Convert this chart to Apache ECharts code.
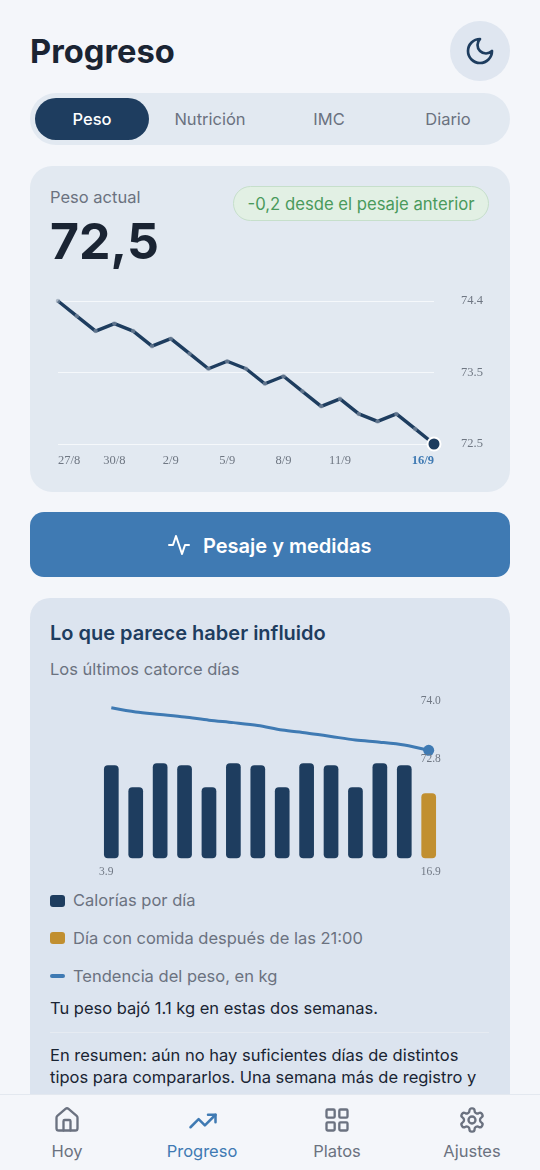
<!DOCTYPE html>
<html lang="es">
<head>
<meta charset="utf-8">
<title>Progreso</title>
<script src="https://cdn.jsdelivr.net/npm/echarts@6/dist/echarts.min.js"></script>
<style>
html,body{margin:0;padding:0;background:#f4f6fa;}
body{position:relative;width:540px;height:1170px;overflow:hidden;font-family:Inter,"Noto Sans",sans-serif;}
.box{position:absolute;box-sizing:border-box;}
.t{position:absolute;white-space:nowrap;line-height:1.2;transform:translateY(calc(-50% + 1px));color:#6b7280;font-size:16.5px;}
.c{transform:translate(-50%,calc(-50% + 1px));}
svg{position:absolute;fill:none;stroke-linecap:round;stroke-linejoin:round;}
</style>
</head>
<body>
<div class="t" style="left:30px;top:51px;font-size:32.7px;font-weight:700;color:#1a2433;">Progreso</div>
<div class="box" style="left:450px;top:21px;width:60px;height:60px;border-radius:50%;background:#dfe6f0;"></div>
<svg style="left:464px;top:35px" width="32" height="32" viewBox="0 0 24 24" stroke="#1e3d5f" stroke-width="2"><path d="M12 3a6 6 0 0 0 9 9 9 9 0 1 1-9-9Z"/></svg>

<div class="box" style="left:30px;top:93px;width:480px;height:52px;border-radius:26px;background:#e2e9f1;"></div>
<div class="box" style="left:35px;top:98px;width:114px;height:42px;border-radius:21px;background:#1e3d5f;"></div>
<div class="t c" style="left:92px;top:119px;color:#fff;font-weight:500;">Peso</div>
<div class="t c" style="left:210px;top:119px;">Nutrición</div>
<div class="t c" style="left:329px;top:119px;">IMC</div>
<div class="t c" style="left:448px;top:119px;">Diario</div>

<div class="box" style="left:30px;top:166px;width:480px;height:326px;border-radius:22px;background:#e2e9f1;"></div>
<div class="t" style="left:50px;top:197px;">Peso actual</div>
<div class="t" style="left:50px;top:240px;font-size:50px;font-weight:700;color:#1a2433;">72,5</div>
<div class="box" style="left:233px;top:186px;width:256px;height:35px;border-radius:18px;background:#e2f0e4;border:1.5px solid #c6dfcb;"></div>
<div class="t c" style="left:361px;top:203px;color:#4a9a5c;font-size:16.7px;">-0,2 desde el pesaje anterior</div>
<div id="weightChart" class="box" style="left:30px;top:285px;width:480px;height:190px;"></div>

<div class="box" style="left:30px;top:512px;width:480px;height:65px;border-radius:14px;background:#3f7ab3;"></div>
<svg style="left:167px;top:533px" width="24" height="24" viewBox="0 0 24 24" stroke="#fff" stroke-width="2"><path d="M22 12h-4l-3 9L9 3l-3 9H2"/></svg>
<div class="t" style="left:203px;top:545px;font-size:20px;font-weight:600;color:#fff;">Pesaje y medidas</div>

<div class="box" style="left:30px;top:598px;width:480px;height:560px;border-radius:20px;background:#dce4ef;"></div>
<div class="t" style="left:50px;top:632px;font-size:20px;font-weight:600;color:#1e3d5f;">Lo que parece haber influido</div>
<div class="t" style="left:50px;top:669px;">Los últimos catorce días</div>
<div id="influenceChart" class="box" style="left:50px;top:690px;width:440px;height:190px;"></div>

<div class="box" style="left:50px;top:895px;width:15px;height:12px;border-radius:3px;background:#1e3d5f;"></div>
<div class="t" style="left:73px;top:900px;">Calorías por día</div>
<div class="box" style="left:50px;top:932px;width:15px;height:12px;border-radius:3px;background:#c18f30;"></div>
<div class="t" style="left:73px;top:938px;">Día con comida después de las 21:00</div>
<div class="box" style="left:50px;top:974px;width:15px;height:4px;border-radius:2px;background:#3f7ab3;"></div>
<div class="t" style="left:73px;top:976px;">Tendencia del peso, en kg</div>
<div class="t" style="left:50px;top:1008px;color:#1a2433;">Tu peso bajó 1.1 kg en estas dos semanas.</div>
<div class="box" style="left:50px;top:1032px;width:439px;height:1px;background:#e6ebf2;"></div>
<div class="t" style="left:50px;top:1055px;color:#1a2433;">En resumen: aún no hay suficientes días de distintos</div>
<div class="t" style="left:50px;top:1077px;color:#1a2433;">tipos para compararlos. Una semana más de registro y</div>

<div class="box" style="left:0;top:1094px;width:540px;height:76px;background:#f4f6fa;border-top:1px solid #e3e8ef;"></div>
<svg style="left:53px;top:1106px" width="28" height="28" viewBox="0 0 24 24" stroke="#6b7280" stroke-width="2"><path d="M15 21v-8a1 1 0 0 0-1-1h-4a1 1 0 0 0-1 1v8"/><path d="M3 10a2 2 0 0 1 .709-1.528l7-5.999a2 2 0 0 1 2.582 0l7 5.999A2 2 0 0 1 21 10v9a2 2 0 0 1-2 2H5a2 2 0 0 1-2-2z"/></svg>
<svg style="left:188px;top:1106px" width="30" height="30" viewBox="0 0 24 24" stroke="#3f7ab3" stroke-width="2"><polyline points="22 7 13.5 15.5 8.5 10.5 2 17"/><polyline points="16 7 22 7 22 13"/></svg>
<svg style="left:323px;top:1106px" width="28" height="28" viewBox="0 0 24 24" stroke="#6b7280" stroke-width="2"><rect x="3" y="3" width="7" height="7" rx="1"/><rect x="14" y="3" width="7" height="7" rx="1"/><rect x="14" y="14" width="7" height="7" rx="1"/><rect x="3" y="14" width="7" height="7" rx="1"/></svg>
<svg style="left:458px;top:1106px" width="28" height="28" viewBox="0 0 24 24" stroke="#6b7280" stroke-width="2"><path d="M12.22 2h-.44a2 2 0 0 0-2 2v.18a2 2 0 0 1-1 1.73l-.43.25a2 2 0 0 1-2 0l-.15-.08a2 2 0 0 0-2.73.73l-.22.38a2 2 0 0 0 .73 2.73l.15.1a2 2 0 0 1 1 1.72v.51a2 2 0 0 1-1 1.74l-.15.09a2 2 0 0 0-.73 2.73l.22.38a2 2 0 0 0 2.73.73l.15-.08a2 2 0 0 1 2 0l.43.25a2 2 0 0 1 1 1.73V20a2 2 0 0 0 2 2h.44a2 2 0 0 0 2-2v-.18a2 2 0 0 1 1-1.73l.43-.25a2 2 0 0 1 2 0l.15.08a2 2 0 0 0 2.73-.73l.22-.39a2 2 0 0 0-.73-2.73l-.15-.08a2 2 0 0 1-1-1.74v-.5a2 2 0 0 1 1-1.74l.15-.09a2 2 0 0 0 .73-2.73l-.22-.38a2 2 0 0 0-2.73-.73l-.15.08a2 2 0 0 1-2 0l-.43-.25a2 2 0 0 1-1-1.73V4a2 2 0 0 0-2-2z"/><circle cx="12" cy="12" r="3"/></svg>
<div class="t c" style="left:67px;top:1151px;">Hoy</div>
<div class="t c" style="left:202px;top:1151px;color:#3f7ab3;">Progreso</div>
<div class="t c" style="left:337px;top:1151px;">Platos</div>
<div class="t c" style="left:472px;top:1151px;">Ajustes</div>

<script>
var weightDays = ['27/8','28/8','29/8','30/8','31/8','1/9','2/9','3/9','4/9','5/9','6/9','7/9','8/9','9/9','10/9','11/9','12/9','13/9','14/9','15/9','16/9'];
var weightValues = [74.4,74.2,74.0,74.1,74.0,73.8,73.9,73.7,73.5,73.6,73.5,73.3,73.4,73.2,73.0,73.1,72.9,72.8,72.9,72.7,72.5];
var shownDays = ['27/8','30/8','2/9','5/9','8/9','11/9','16/9'];
var weightTicks = [72.5,73.45,74.4];
var weightTickLabels = ['72.5','73.5','74.4'];

var influenceDays = ['3.9','4.9','5.9','6.9','7.9','8.9','9.9','10.9','11.9','12.9','13.9','14.9','15.9','16.9'];
var calories = [2115,1615,2160,2115,1615,2160,2115,1615,2160,2115,1615,2160,2115,1480];
var trendValues = [74.0,73.88,73.81,73.74,73.65,73.58,73.5,73.37,73.29,73.19,73.09,73.03,72.95,72.8];

var navy = '#1e3d5f', gold = '#c18f30', blue = '#3f7ab3', grey = '#6f7783';
var serif = '"Liberation Serif","Times New Roman",serif';

var weightChart = echarts.init(document.getElementById('weightChart'));
weightChart.setOption({
    animation: false,
    grid: {left: 28, top: 16, width: 376, height: 143},
    xAxis: {
        type: 'category',
        data: weightDays,
        boundaryGap: false,
        axisLine: {show: false},
        axisTick: {show: false},
        axisLabel: {
            margin: 10,
            fontFamily: serif,
            fontSize: 12.5,
            color: grey,
            alignMinLabel: 'left',
            alignMaxLabel: 'right',
            hideOverlap: false,
            interval: function (i, name) { return shownDays.indexOf(name) >= 0; },
            formatter: function (name) { return name == '16/9' ? '{last|' + name + '}' : name; },
            rich: {last: {fontFamily: serif, fontSize: 12.5, fontWeight: 'bold', color: blue}}
        }
    },
    yAxis: {
        type: 'value',
        position: 'right',
        min: 72.5,
        max: 74.4,
        axisLine: {show: false},
        axisTick: {show: false, customValues: weightTicks},
        splitLine: {show: true, lineStyle: {color: '#f5f8fb', width: 1}},
        axisLabel: {
            customValues: weightTicks,
            margin: 27,
            verticalAlignMinLabel: 'middle',
            padding: [2, 0, 0, 0],
            fontFamily: serif,
            fontSize: 12.5,
            color: grey,
            formatter: function (v) { return weightTickLabels[weightTicks.indexOf(v)]; }
        }
    },
    series: [{
        type: 'line',
        data: weightValues.map(function (v, i) {
            if (i == weightValues.length - 1) {
                return {value: v, symbolSize: 13, itemStyle: {color: navy, borderColor: '#fff', borderWidth: 2, opacity: 1}};
            }
            return {value: v, symbolSize: 4.5, itemStyle: {color: '#8b99ab', opacity: 0.6}};
        }),
        symbol: 'circle',
        showAllSymbol: true,
        clip: false,
        lineStyle: {color: navy, width: 3.4}
    }]
});

var influenceChart = echarts.init(document.getElementById('influenceChart'));
var lastDay = influenceDays[influenceDays.length - 1];
influenceChart.setOption({
    animation: false,
    grid: {left: 49.1, top: 10, width: 341.8, height: 158.3},
    xAxis: {
        type: 'category',
        data: influenceDays,
        axisLine: {show: false},
        axisTick: {show: false},
        axisLabel: {
            margin: 8,
            fontFamily: serif,
            fontSize: 11.5,
            color: grey,
            hideOverlap: false,
            interval: function (i, name) { return name == influenceDays[0] || name == lastDay; },
            formatter: function (name) { return name == lastDay ? '{end|' + name + '}' : '{start|' + name + '}'; },
            rich: {
                start: {fontFamily: serif, fontSize: 11.5, color: grey, padding: [0, 10, 0, 0]},
                end: {fontFamily: serif, fontSize: 11.5, color: grey, padding: [0, 0, 0, 4]}
            }
        }
    },
    yAxis: [
        {type: 'value', show: false, min: 0, max: 3600},
        {type: 'value', show: false, min: 69.76, max: 74.217}
    ],
    series: [{
        type: 'bar',
        yAxisIndex: 0,
        barWidth: 14.7,
        data: calories.map(function (v, i) {
            return {value: v, itemStyle: {color: i == calories.length - 1 ? gold : navy, borderRadius: 4}};
        })
    }, {
        type: 'line',
        yAxisIndex: 1,
        smooth: 0.3,
        symbol: 'circle',
        showAllSymbol: true,
        symbolSize: function (v, p) { return p.dataIndex == trendValues.length - 1 ? 11 : 0; },
        data: trendValues,
        clip: false,
        lineStyle: {color: blue, width: 3},
        itemStyle: {color: blue},
        markPoint: {
            symbol: 'circle',
            symbolSize: 0,
            data: [
                {coord: [lastDay, 74.0], label: {formatter: '74.0', position: 'top', distance: 1, offset: [2, 0]}},
                {coord: [lastDay, 72.8], label: {formatter: '72.8', position: 'bottom', distance: 3, offset: [2, 0]}}
            ],
            label: {show: true, fontFamily: serif, fontSize: 11.5, color: grey}
        }
    }]
});
</script>
</body>
</html>
